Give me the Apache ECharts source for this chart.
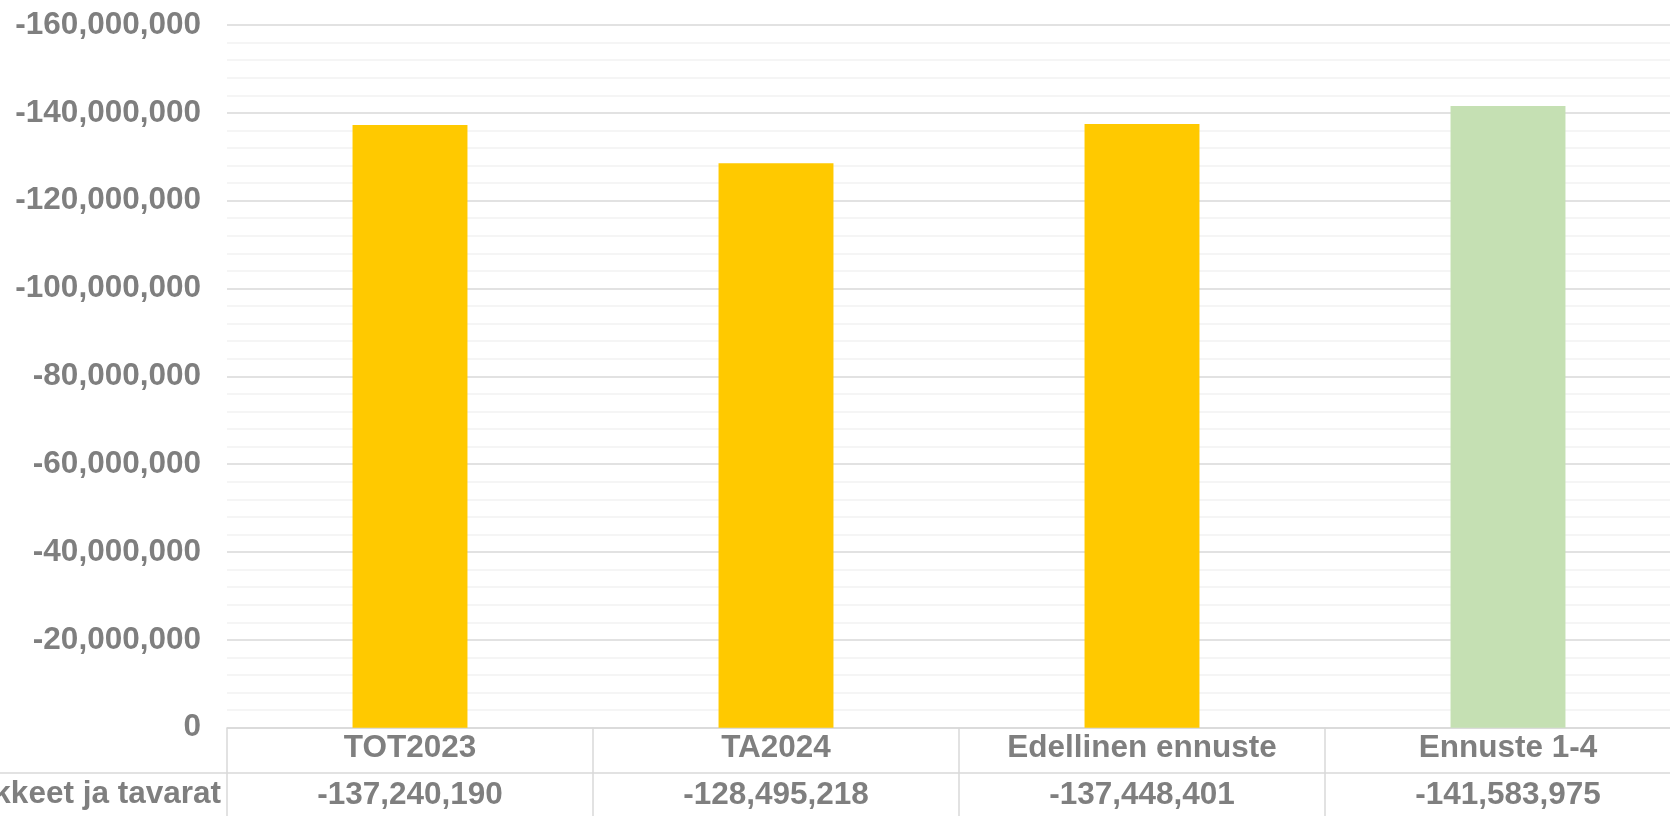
<!DOCTYPE html>
<html>
<head>
<meta charset="utf-8">
<style>html,body{margin:0;padding:0;background:#fff}#c{width:1670px;height:816px}</style>
<script src="https://cdn.jsdelivr.net/npm/echarts@6/dist/echarts.min.js"></script>
</head>
<body>
<div id="c"></div>
<script>
const categories = ['TOT2023', 'TA2024', 'Edellinen ennuste', 'Ennuste 1-4'];
const values = [-137240190, -128495218, -137448401, -141583975];
const barColors = ['#ffc900', '#ffc900', '#ffc900', '#c5e0b3'];
const rowLabel = 'Aineet, tarvikkeet ja tavarat';
const yMin = -160000000, yMax = 0, yStep = 20000000;

const txt = '#7f7f7f';
const font = 'Liberation Sans, Arial, sans-serif';
const fmt = v => Math.round(v).toLocaleString('en-US');

const chart = echarts.init(document.getElementById('c'));
chart.setOption({
  animation: false,
  backgroundColor: '#fff',
  grid: { left: 227, width: 1464, top: 25, bottom: 88.3, containLabel: false, outerBoundsMode: 'none' },
  xAxis: [{
    type: 'category',
    data: categories,
    position: 'bottom',
    axisLine: { show: true, lineStyle: { color: '#d9d9d9', width: 1.5 } },
    axisTick: { show: true, length: 100, interval: 0, lineStyle: { color: '#d9d9d9', width: 1.5 } },
    axisLabel: { color: txt, fontFamily: font, fontWeight: 'bold', fontSize: 31.5, margin: 3, lineHeight: 36, interval: 0 },
    splitLine: { show: false }
  }, {
    type: 'category',
    data: categories,
    position: 'bottom',
    offset: 45.3,
    axisLine: { show: false },
    axisTick: { show: false },
    axisLabel: { color: txt, fontFamily: font, fontWeight: 'bold', fontSize: 31.5, margin: 4, lineHeight: 36, interval: 0,
      formatter: (v, i) => fmt(values[i]) }
  }],
  yAxis: {
    type: 'value',
    inverse: true,
    min: yMin, max: yMax, interval: yStep,
    axisLine: { show: false },
    axisTick: { show: false },
    axisLabel: { color: txt, fontFamily: font, fontWeight: 'bold', fontSize: 31.5, margin: 26, formatter: v => fmt(v) },
    splitLine: { show: true, lineStyle: { color: '#d9d9d9', width: 1.5 } },
    minorTick: { show: false, splitNumber: 5 },
    minorSplitLine: { show: true, lineStyle: { color: '#f2f2f2', width: 1.5 } }
  },
  series: [{
    type: 'bar',
    xAxisIndex: 0,
    data: values.map((v, i) => ({ value: v, itemStyle: { color: barColors[i] } })),
    barWidth: '31.4%'
  }],
  graphic: [
    { type: 'line', shape: { x1: 0, y1: 773, x2: 1670, y2: 773 }, style: { stroke: '#d9d9d9', lineWidth: 1.5 }, silent: true },
    { type: 'text', x: 221, y: 794, style: { text: rowLabel, fill: txt, font: 'bold 31.5px "Liberation Sans", Arial, sans-serif', textAlign: 'right', textVerticalAlign: 'middle' }, silent: true }
  ]
});
</script>
</body>
</html>
